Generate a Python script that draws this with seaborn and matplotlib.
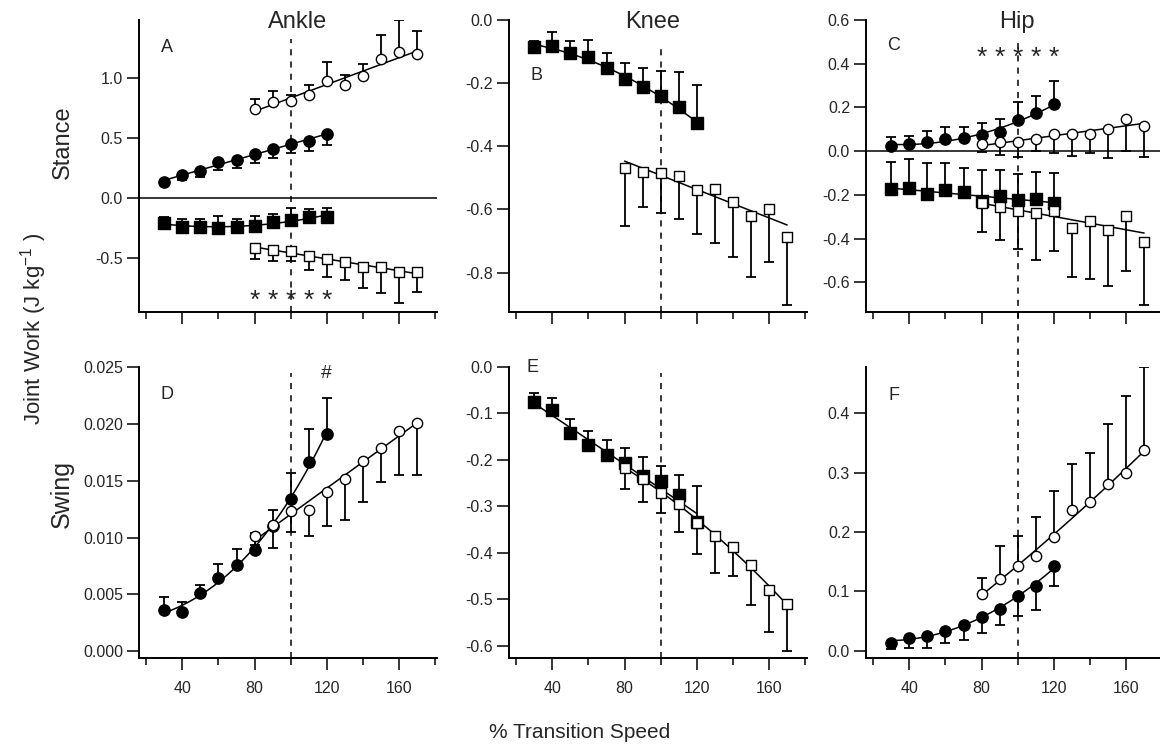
import numpy as np
import matplotlib
matplotlib.use("Agg")
import matplotlib.pyplot as plt
import seaborn as sns
from matplotlib.ticker import FormatStrFormatter

sns.set_theme(style="ticks")
plt.rcParams['font.family'] = ['Liberation Sans', 'DejaVu Sans']
plt.rcParams['axes.unicode_minus'] = False
plt.rcParams['mathtext.default'] = 'regular'

# speeds (% transition speed)
speed_walk = [30, 40, 50, 60, 70, 80, 90, 100, 110, 120]
speed_run = [80, 90, 100, 110, 120, 130, 140, 150, 160, 170]

# stance - ankle
ank_st_pos_walk = [0.136, 0.186, 0.225, 0.300, 0.317, 0.367, 0.408, 0.450, 0.470, 0.533]
ank_st_pos_walk_err = [0.03, 0.035, 0.055, 0.07, 0.065, 0.08, 0.08, 0.08, 0.08, 0.09]
ank_st_pos_run = [0.742, 0.800, 0.808, 0.858, 0.975, 0.942, 1.017, 1.156, 1.214, 1.200]
ank_st_pos_run_err = [0.08, 0.09, 0.05, 0.08, 0.155, 0.083, 0.097, 0.20, 0.27, 0.19]
ank_st_neg_walk = [-0.206, -0.239, -0.239, -0.253, -0.244, -0.231, -0.203, -0.183, -0.158, -0.161]
ank_st_neg_walk_err = [0.045, 0.064, 0.06, 0.10, 0.07, 0.08, 0.067, 0.10, 0.064, 0.08]
ank_st_neg_run = [-0.419, -0.433, -0.439, -0.481, -0.508, -0.536, -0.578, -0.578, -0.619, -0.614]
ank_st_neg_run_err = [0.09, 0.09, 0.09, 0.12, 0.15, 0.15, 0.17, 0.21, 0.26, 0.17]

# stance - knee
knee_st_walk = [-0.085, -0.083, -0.106, -0.118, -0.153, -0.187, -0.212, -0.241, -0.275, -0.326]
knee_st_walk_err = [0.02, 0.046, 0.04, 0.055, 0.05, 0.05, 0.06, 0.08, 0.11, 0.12]
knee_st_run = [-0.468, -0.481, -0.484, -0.495, -0.537, -0.535, -0.577, -0.621, -0.598, -0.686]
knee_st_run_err = [0.186, 0.11, 0.128, 0.136, 0.14, 0.172, 0.174, 0.194, 0.168, 0.216]

# stance - hip
hip_st_pos_walk = [0.024, 0.031, 0.043, 0.058, 0.061, 0.073, 0.086, 0.145, 0.173, 0.214]
hip_st_pos_walk_err = [0.039, 0.038, 0.049, 0.051, 0.05, 0.057, 0.061, 0.081, 0.079, 0.107]
hip_st_pos_run = [0.031, 0.040, 0.043, 0.054, 0.077, 0.077, 0.081, 0.101, 0.147, 0.115]
hip_st_pos_run_err = [0.034, 0.055, 0.07, 0.053, 0.083, 0.10, 0.087, 0.13, 0.146, 0.141]
hip_st_neg_walk = [-0.174, -0.167, -0.194, -0.179, -0.187, -0.229, -0.206, -0.225, -0.220, -0.237]
hip_st_neg_walk_err = [0.125, 0.13, 0.138, 0.127, 0.112, 0.142, 0.119, 0.119, 0.125, 0.137]
hip_st_neg_run = [-0.235, -0.255, -0.274, -0.283, -0.274, -0.352, -0.317, -0.359, -0.297, -0.413]
hip_st_neg_run_err = [0.135, 0.15, 0.172, 0.212, 0.183, 0.225, 0.267, 0.256, 0.252, 0.289]

# swing
ank_sw_walk = [0.00361, 0.00343, 0.00514, 0.0064, 0.0076, 0.00889, 0.0110, 0.01335, 0.01664, 0.01914]
ank_sw_walk_err = [0.0012, 0.0009, 0.0007, 0.0013, 0.0014, 0.0015, 0.0014, 0.0023, 0.0029, 0.0031]
ank_sw_run = [0.01012, 0.0111, 0.01232, 0.01241, 0.01403, 0.01511, 0.01673, 0.0179, 0.01937, 0.0201]
ank_sw_run_err = [0.0008, 0.002, 0.0018, 0.0023, 0.003, 0.0036, 0.0036, 0.003, 0.0039, 0.0046]

knee_sw_walk = [-0.076, -0.093, -0.141, -0.167, -0.190, -0.207, -0.235, -0.246, -0.276, -0.333]
knee_sw_walk_err = [0.021, 0.026, 0.029, 0.029, 0.032, 0.032, 0.041, 0.034, 0.044, 0.076]
knee_sw_run = [-0.217, -0.240, -0.270, -0.294, -0.335, -0.363, -0.388, -0.427, -0.479, -0.510]
knee_sw_run_err = [0.045, 0.05, 0.044, 0.06, 0.067, 0.08, 0.061, 0.085, 0.091, 0.10]

hip_sw_walk = [0.014, 0.0225, 0.0245, 0.034, 0.0444, 0.0562, 0.0702, 0.0926, 0.1094, 0.143]
hip_sw_walk_err = [0.011, 0.017, 0.019, 0.02, 0.026, 0.026, 0.026, 0.034, 0.04, 0.034]
hip_sw_run = [0.0955, 0.1207, 0.143, 0.160, 0.191, 0.237, 0.2515, 0.2818, 0.299, 0.3384]
hip_sw_run_err = [0.028, 0.056, 0.05, 0.066, 0.078, 0.077, 0.081, 0.10, 0.13, 0.14]

W, H = 1160, 751
fig = plt.figure(figsize=(W / 100, H / 100), dpi=100)


def px_axes(l, t, r, b):
    return fig.add_axes([l / W, 1 - b / H, (r - l) / W, (b - t) / H])


def series(ax, x, y, err, marker, filled, up, order):
    x = np.array(x, dtype=float)
    y = np.array(y, dtype=float)
    err = np.array(err, dtype=float)
    zero = np.zeros_like(err)
    yerr = [zero, err] if up else [err, zero]
    ax.errorbar(x, y, yerr=yerr, fmt='none', ecolor='black', elinewidth=1.3,
                capsize=3.5, capthick=1.3, zorder=2)
    sns.regplot(x=x, y=y, order=order, ci=None, scatter=False, ax=ax,
                line_kws=dict(color='black', lw=1.1, zorder=3))
    size = 66 if filled else 55
    sns.scatterplot(x=x, y=y, ax=ax, marker=marker, s=size,
                    color='black' if filled else 'white', edgecolor='black',
                    linewidth=1.0, zorder=4, legend=False)


def style(ax, ylim, yticks, fmt, xlabels, dash=(0.0, 1.0)):
    ax.set_xlim(16, 181)
    ax.set_ylim(*ylim)
    ax.set_yticks(yticks)
    ax.yaxis.set_major_formatter(FormatStrFormatter(fmt))
    ax.set_xticks([40, 80, 120, 160])
    ax.set_xticks([20, 60, 100, 140, 180], minor=True)
    ax.tick_params(axis='x', which='major', length=8.5, width=1.1, labelsize=11.5,
                   pad=8, labelbottom=xlabels, color='black')
    ax.tick_params(axis='x', which='minor', length=5, width=1.1, color='black')
    ax.tick_params(axis='y', length=8.5, width=1.1, labelsize=11.5, pad=3, color='black')
    sns.despine(ax=ax)
    for s in ['left', 'bottom']:
        ax.spines[s].set_linewidth(1.4)
        ax.spines[s].set_color('black')
    ax.set_xlabel('')
    ax.set_ylabel('')
    ax.axvline(100, ymin=dash[0], ymax=dash[1], color='black', lw=1.1,
               ls=(0, (4, 4)), clip_on=False, zorder=1)


axA = px_axes(139, 20, 437, 312)
axB = px_axes(509, 20, 807, 312)
axC = px_axes(866, 20, 1164, 312)
axD = px_axes(139, 367, 437, 658)
axE = px_axes(509, 367, 807, 658)
axF = px_axes(866, 367, 1164, 658)

# A - ankle stance
series(axA, speed_walk, ank_st_pos_walk, ank_st_pos_walk_err, 'o', True, False, 1)
series(axA, speed_run, ank_st_pos_run, ank_st_pos_run_err, 'o', False, True, 1)
series(axA, speed_walk, ank_st_neg_walk, ank_st_neg_walk_err, 's', True, True, 2)
series(axA, speed_run, ank_st_neg_run, ank_st_neg_run_err, 's', False, False, 1)
axA.axhline(0, color='black', lw=1.1, zorder=1)
style(axA, (-0.95, 1.48), [-0.5, 0.0, 0.5, 1.0], '%.1f', False, (0.0, 0.935))
for xs in speed_walk[5:]:
    axA.text(xs, -0.86, '*', ha='center', va='center', fontsize=19)

# B - knee stance
series(axB, speed_walk, knee_st_walk, knee_st_walk_err, 's', True, True, 2)
series(axB, speed_run, knee_st_run, knee_st_run_err, 's', False, False, 1)
style(axB, (-0.925, 0.0), [-0.8, -0.6, -0.4, -0.2, 0.0], '%.1f', False, (0.0, 0.914))

# C - hip stance
series(axC, speed_walk, hip_st_pos_walk, hip_st_pos_walk_err, 'o', True, True, 2)
series(axC, speed_run, hip_st_pos_run, hip_st_pos_run_err, 'o', False, False, 1)
series(axC, speed_walk, hip_st_neg_walk, hip_st_neg_walk_err, 's', True, True, 1)
series(axC, speed_run, hip_st_neg_run, hip_st_neg_run_err, 's', False, False, 1)
axC.axhline(0, color='black', lw=1.1, zorder=1)
style(axC, (-0.735, 0.6), [-0.6, -0.4, -0.2, 0.0, 0.2, 0.4, 0.6], '%.1f', False, (-0.19, 0.94))
for xs in speed_walk[5:]:
    axC.text(xs, 0.425, '*', ha='center', va='center', fontsize=19)

# D - ankle swing
series(axD, speed_walk, ank_sw_walk, ank_sw_walk_err, 'o', True, True, 3)
series(axD, speed_run, ank_sw_run, ank_sw_run_err, 'o', False, False, 1)
style(axD, (-0.0006, 0.025), [0.0, 0.005, 0.010, 0.015, 0.020, 0.025], '%.3f', True, (0.0, 0.98))
axD.text(120, 0.0244, '#', ha='center', va='center', fontsize=14)

# E - knee swing
series(axE, speed_walk, knee_sw_walk, knee_sw_walk_err, 's', True, True, 2)
series(axE, speed_run, knee_sw_run, knee_sw_run_err, 's', False, False, 2)
style(axE, (-0.626, 0.0), [-0.6, -0.5, -0.4, -0.3, -0.2, -0.1, 0.0], '%.1f', True, (0.0, 0.98))

# F - hip swing
series(axF, speed_walk, hip_sw_walk, hip_sw_walk_err, 'o', True, False, 2)
series(axF, speed_run, hip_sw_run, hip_sw_run_err, 'o', False, True, 2)
style(axF, (-0.012, 0.478), [0.0, 0.1, 0.2, 0.3, 0.4], '%.1f', True, (0.0, 1.0))


def ftext(x, y, s, **kw):
    fig.text(x / W, 1 - y / H, s, ha='center', va='center', **kw)


ftext(298, 22, 'Ankle', fontsize=17)
ftext(653, 22, 'Knee', fontsize=17)
ftext(1017, 22, 'Hip', fontsize=17)
for lbl, (lx, ly) in zip('ABCDEF', [(167, 47), (537, 75), (894, 46),
                                     (167, 394), (533, 368), (894, 395)]):
    ftext(lx, ly, lbl, fontsize=13)
ftext(63, 142, 'Stance', fontsize=17, rotation=90)
ftext(62, 494, 'Swing', fontsize=18, rotation=90)
ftext(34, 329, 'Joint Work (J kg$^{-1}$ )', fontsize=16, rotation=90)
ftext(580, 733, '% Transition Speed', fontsize=15)

fig.savefig('out.png', dpi=100)
